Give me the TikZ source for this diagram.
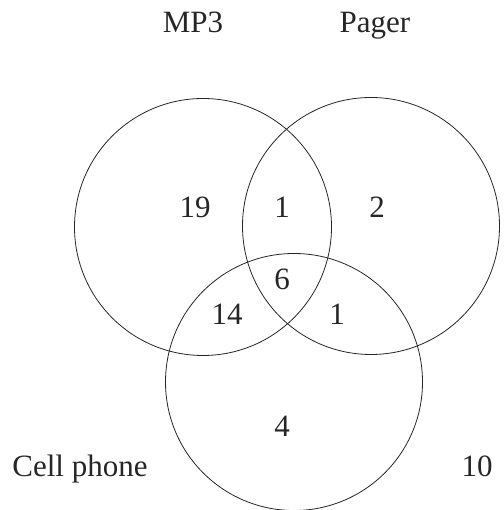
\documentclass[tikz,border=0pt]{standalone}
\usepackage{fontspec}
\setmainfont{Liberation Serif}
\begin{document}
\begin{tikzpicture}[x=1pt,y=1pt,
  setcirc/.style={circle,draw=black!85,line width=0.8pt,inner sep=0pt,minimum size=257pt},
  lbl/.style={anchor=base,inner sep=0pt,font=\fontsize{31}{34}\selectfont,text=black!85}]
\useasboundingbox (0,0) rectangle (503,510);
\node[setcirc] (mp3) at (203,283) {};
\node[setcirc] (pager) at (371,284) {};
\node[setcirc] (cell) at (294,128) {};
\node[lbl] (tmp3) at (193,477) {MP3};
\node[lbl] (tpager) at (375,477) {Pager};
\node[lbl] (n19) at (195,292) {19};
\node[lbl] (n1a) at (282,292) {1};
\node[lbl] (n2) at (377,292) {2};
\node[lbl] (n6) at (282,220) {6};
\node[lbl] (n14) at (227,185) {14};
\node[lbl] (n1b) at (337,185) {1};
\node[lbl] (n4) at (282,73) {4};
\node[lbl] (tcell) at (80,33) {Cell phone};
\node[lbl] (n10) at (477,33) {10};
\end{tikzpicture}
\end{document}
